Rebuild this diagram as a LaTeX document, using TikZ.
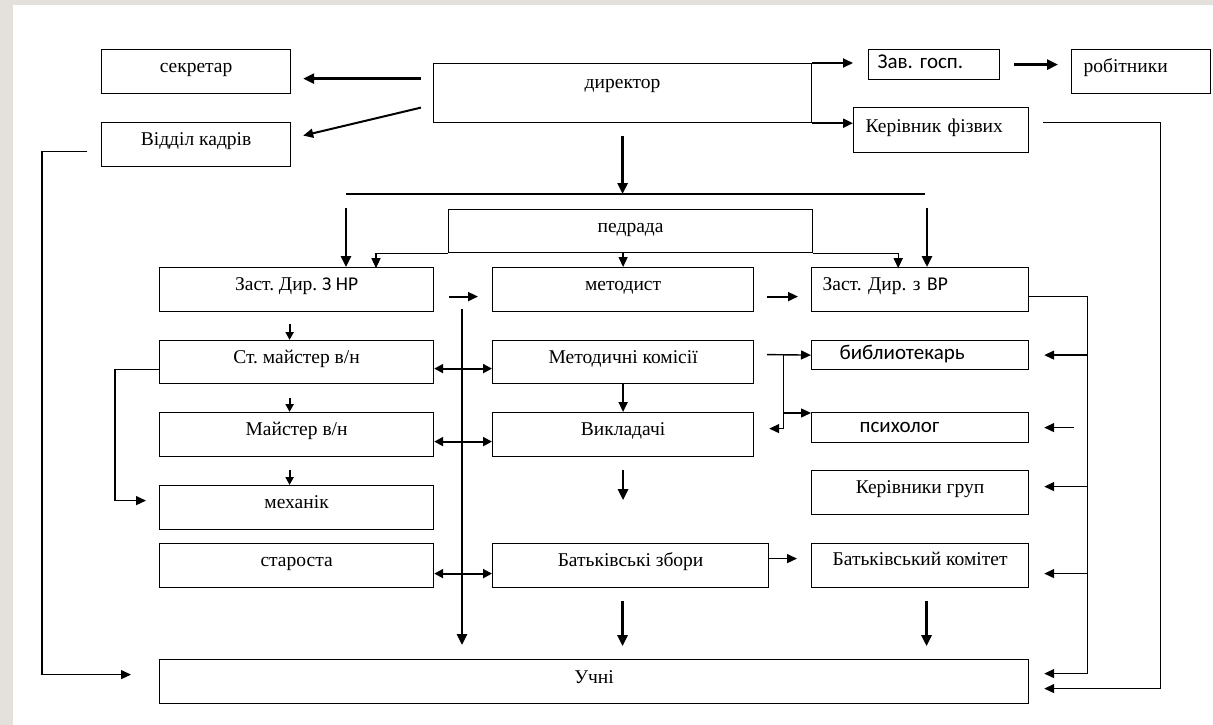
\documentclass[tikz,border=0pt]{standalone}
\usepackage{fontspec}
\setmainfont{Liberation Serif}
\newfontfamily\calib{Carlito}
\usetikzlibrary{arrows.meta}
\definecolor{framegrey}{HTML}{E4E1DC}
\frenchspacing
\tikzset{
  box/.style={draw, line width=1.2pt, anchor=north west, inner sep=0pt, align=center,
    minimum height=44pt, text height=23pt, text depth=21pt, font=\fontsize{19.5}{22}\selectfont},
  sbox/.style={box, font=\fontsize{21}{23}\selectfont\calib},
  lft/.style 2 args={align=left, inner xsep=#1, text width=#2},
  ln/.style={line width=1.3pt},
  arr/.style={line width=1.4pt, -{Triangle[length=10pt,width=9pt]}},
  medarr/.style={line width=2pt, -{Triangle[length=10pt,width=9pt]}},
  smallarr/.style={line width=2pt, -{Triangle[length=8pt,width=8pt]}},
  thickarr/.style={line width=2.6pt, -{Triangle[length=11pt,width=10pt]}},
  dblarr/.style={line width=2pt, {Triangle[length=9pt,width=9pt]}-{Triangle[length=9pt,width=9pt]}}
}
\begin{document}
\begin{tikzpicture}[x=1pt,y=-1pt]
  \useasboundingbox (0,0) rectangle (1213,725);
  \fill[framegrey] (0,0) rectangle (1213,725);
  \fill[white] (13,5) rectangle (1213,725);

  \node[box, minimum width=189pt] (sekr) at (101,49) {секретар};
  \node[box, minimum width=189pt] (kadry) at (101,122) {Відділ кадрів};
  \node[box, minimum width=378pt, minimum height=59pt, text height=25pt, text depth=34pt] (dyr) at (433,63) {директор};
  \node[sbox, minimum height=30pt, text height=19pt, text depth=11pt, lft={9pt}{113pt}] (zav) at (868,49) {Зав. госп.};
  \node[box, lft={12pt}{115pt}] (robit) at (1071,49) {робітники};
  \node[box, minimum height=45pt, text height=25pt, text depth=20pt, lft={12pt}{151pt}] (fizv) at (853,107) {Керівник фізвих};
  \node[box, minimum width=364pt, minimum height=43pt, text depth=20pt] (pedr) at (448,209) {педрада};

  \node[box, minimum width=274pt] (zastnr) at (159,267) {Заст. Дир. {\calib З НР}};
  \node[box, minimum width=261pt] (metod) at (492,267) {методист};
  \node[box, lft={11pt}{195pt}] (zastvr) at (811,267) {Заст. Дир. з {\calib ВР}};
  \node[box, minimum width=274pt, minimum height=43pt, text depth=20pt] (stmaist) at (159,340) {Ст. майстер в/н};
  \node[box, minimum width=261pt, minimum height=43pt, text depth=20pt] (metkom) at (492,340) {Методичні комісії};
  \node[sbox, minimum height=29pt, text height=19pt, text depth=10pt, lft={28pt}{161pt}] (bibl) at (811,340) {библиотекарь};
  \node[box, minimum width=274pt] (maist) at (159,412) {Майстер в/н};
  \node[box, minimum width=261pt] (vykl) at (492,412) {Викладачі};
  \node[sbox, minimum height=30pt, text height=20pt, text depth=10pt, lft={48pt}{121pt}] (psych) at (811,412) {психолог};
  \node[box, minimum width=274pt] (mekh) at (159,485) {механік};
  \node[box, minimum width=217pt] (kergr) at (811,470) {Керівники груп};
  \node[box, minimum width=274pt] (star) at (159,543) {староста};
  \node[box, minimum width=276pt] (batzb) at (492,543) {Батьківські збори};
  \node[box, minimum width=217pt, text height=22pt, text depth=22pt] (batkom) at (811,543) {Батьківський комітет};
  \node[box, minimum width=869pt, text height=24pt, text depth=20pt] (uchni) at (159,659) {Учні};

  \coordinate (busl) at (346,194);
  \coordinate (busr) at (925,194);
  \coordinate (spine) at (462,309);
  \coordinate (mk) at ([xshift=29pt,yshift=7.5pt]metkom.east);
  \coordinate (rb) at ([xshift=58pt,yshift=-7pt]zastvr.east);

  \draw[thickarr] ([xshift=-12pt,yshift=14.5pt]dyr.west) -- ([xshift=12pt,yshift=-7pt]sekr.east);
  \draw[medarr] ([xshift=-12pt,yshift=-14.5pt]dyr.west) -- ([xshift=12pt,yshift=9pt]kadry.east);
  \draw[medarr] (dyr.north east) -- ([xshift=-15pt]zav.west |- dyr.north east);
  \draw[medarr] (dyr.south east) -- (fizv.west |- dyr.south east);
  \draw[thickarr] ([xshift=14pt]zav.east) -- ([xshift=-13pt]robit.west |- zav.east);
  \draw[arr] ([xshift=14pt,yshift=7.5pt]fizv.east) -- ++(117,0) |- ([xshift=15pt,yshift=-7pt]uchni.east);
  \draw[arr] ([xshift=-14pt,yshift=-7pt]kadry.west) -- ++(-45,0) |- ([xshift=-28pt,yshift=7pt]uchni.west);

  \draw[ln] (busl) -- (busr);
  \draw[thickarr] ([yshift=-13pt]dyr.south) -- (dyr.south |- busl);
  \draw[thickarr] ([yshift=-14pt]busl) -- (busl |- zastnr.north);
  \draw[thickarr] ([xshift=2pt,yshift=-14pt]busr) -- ([xshift=2pt]busr |- zastvr.north);
  \draw[arr] (pedr.south west) -- ++(-72,0) -- ++(0,15);
  \draw[arr] (pedr.south east) -- ++(85,0) -- ++(0,15);
  \draw[arr] (metod.north |- pedr.south) -- (metod.north);

  \draw[medarr] ([xshift=15pt,yshift=-7pt]zastnr.east) -- ([xshift=-14pt,yshift=-7pt]metod.west);
  \draw[medarr] ([xshift=13pt,yshift=-7pt]metod.east) -- ([xshift=-13pt,yshift=-7pt]zastvr.west);
  \draw[thickarr] (spine) -- ([yshift=14pt]spine |- uchni.north);
  \draw[dblarr] ([yshift=-6.5pt]stmaist.east) -- ([yshift=-6.5pt]metkom.west);
  \draw[dblarr] ([yshift=-7pt]maist.east) -- ([yshift=-7pt]vykl.west);
  \draw[dblarr] ([yshift=-8pt]star.east) -- ([yshift=-8pt]batzb.west);

  \draw[smallarr] ([xshift=-7pt,yshift=-12pt]zastnr.south) -- ([xshift=-7pt]stmaist.north);
  \draw[smallarr] ([xshift=-7pt,yshift=-14pt]stmaist.south) -- ([xshift=-7pt]maist.north);
  \draw[smallarr] ([xshift=-7pt,yshift=-13pt]maist.south) -- ([xshift=-7pt]mekh.north);
  \draw[arr] ([yshift=-7.5pt]stmaist.west) -- ++(-44,0) |- ([xshift=-13pt,yshift=7pt]mekh.west);

  \draw[medarr] (metkom.south) -- (vykl.north);
  \draw[arr] ([xshift=13pt,yshift=7.5pt]metkom.east) -- (bibl.west);
  \draw[arr] (mk) |- ([xshift=15pt,yshift=6pt]vykl.east);
  \draw[arr] ([yshift=-1pt]mk |- psych.north west) -- ([yshift=-1pt]psych.north west);
  \draw[thickarr] ([yshift=-13pt]vykl.south) -- ++(0,30);

  \draw[arr] ([yshift=-7pt]zastvr.east) -- (rb) |- ([xshift=15pt,yshift=8pt]uchni.east);
  \draw[arr] (rb |- bibl.east) -- ([xshift=15pt]bibl.east);
  \draw[arr] ([xshift=45pt]psych.east) -- ([xshift=15pt]psych.east);
  \draw[arr] ([yshift=6pt]kergr.east -| rb) -- ([xshift=15pt,yshift=6pt]kergr.east);
  \draw[arr] ([yshift=-8pt]batkom.east -| rb) -- ([xshift=15pt,yshift=-8pt]batkom.east);
  \draw[arr] ([yshift=7pt]batzb.east) -- ([xshift=-14pt,yshift=7pt]batkom.west);
  \draw[thickarr] ([xshift=-8pt,yshift=-13pt]batzb.south) -- ++(0,45);
  \draw[thickarr] ([xshift=6.5pt,yshift=-13pt]batkom.south) -- ++(0,45);
\end{tikzpicture}
\end{document}
